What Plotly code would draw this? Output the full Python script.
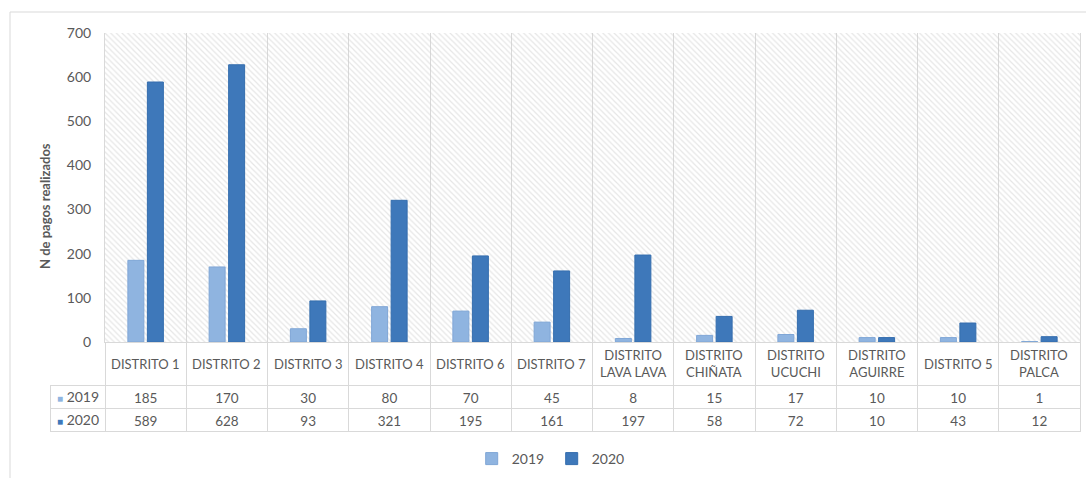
import plotly.graph_objects as go

categories = ["DISTRITO 1", "DISTRITO 2", "DISTRITO 3", "DISTRITO 4", "DISTRITO 6",
              "DISTRITO 7", "DISTRITO<br>LAVA LAVA", "DISTRITO<br>CHIÑATA",
              "DISTRITO<br>UCUCHI", "DISTRITO<br>AGUIRRE", "DISTRITO 5", "DISTRITO<br>PALCA"]
series_names = ["2019", "2020"]
values_2019 = [185, 170, 30, 80, 70, 45, 8, 15, 17, 10, 10, 1]
values_2020 = [589, 628, 93, 321, 195, 161, 197, 58, 72, 10, 43, 12]
y_ticks = [0, 100, 200, 300, 400, 500, 600, 700]

C2019 = "#8FB4E0"
C2020 = "#3E78BA"
GRID = "#d9d9d9"
TXT = "#595959"
FONT = "Lato"

W, H = 1086, 478
def px_x(p): return p / W
def px_y(p): return (H - p) / H

PLOT_L, PLOT_R, PLOT_T, PLOT_B = 105, 1080, 33, 342

fig = go.Figure()

# hatched plot background (main hidden axes)
fig.add_trace(go.Scatter(
    x=[0, 1, 1, 0, 0], y=[0, 0, 1, 1, 0], mode="none", fill="toself",
    fillcolor="rgba(0,0,0,0)",
    fillpattern=dict(shape="\\", fgcolor="#cdcdcd", bgcolor="rgba(0,0,0,0)", size=4, solidity=0.3),
    showlegend=False, hoverinfo="skip", xaxis="x", yaxis="y"))

fig.add_trace(go.Bar(name=series_names[0], x=categories, y=values_2019,
                     marker=dict(color=C2019, line=dict(color="#7FA6D6", width=1)),
                     xaxis="x2", yaxis="y2"))
fig.add_trace(go.Bar(name=series_names[1], x=categories, y=values_2020,
                     marker=dict(color=C2020, line=dict(color="#346DAE", width=1)),
                     xaxis="x2", yaxis="y2"))

# data table
cols = [["", ""]] + [[str(a), str(b)] for a, b in zip(values_2019, values_2020)]
fig.add_trace(go.Table(
    domain=dict(x=[px_x(50), px_x(1080)], y=[px_y(445), px_y(PLOT_B)]),
    columnwidth=[55] + [81.25] * 12,
    header=dict(values=[""] * 13, height=43,
                line=dict(color=["rgba(0,0,0,0)"] + [GRID] * 12, width=1),
                fill=dict(color=["rgba(0,0,0,0)"] + ["white"] * 12)),
    cells=dict(values=cols, height=23, align="center",
               line=dict(color=GRID, width=1), fill=dict(color="white"),
               font=dict(family=FONT, size=13.5, color=TXT)),
))

annotations = []
for c in categories:
    annotations.append(dict(x=c, xref="x2", y=px_y(363.5), yref="paper", text=c,
                            showarrow=False, yanchor="middle", xanchor="center", align="center",
                            font=dict(family=FONT, size=13, color=TXT)))
# row labels of the data table
for name, col, ypx in [(series_names[0], C2019, 396.5), (series_names[1], C2020, 419.5)]:
    annotations.append(dict(x=px_x(78), y=px_y(ypx), xref="paper", yref="paper",
                            text=f"<span style='color:{col};font-size:10px'>■</span> {name}",
                            showarrow=False, xanchor="center", yanchor="middle",
                            font=dict(family=FONT, size=14, color=TXT)))
annotations.append(dict(x=px_x(45), y=px_y(206), xref="paper", yref="paper",
                        text="<b>N de pagos realizados</b>", textangle=-90, showarrow=False,
                        xanchor="center", yanchor="middle",
                        font=dict(family=FONT, size=13, color="#595959")))

fig.update_layout(
    width=W, height=H,
    margin=dict(l=0, r=0, t=0, b=0, autoexpand=False),
    paper_bgcolor="white", plot_bgcolor="white",
    font=dict(family=FONT, color=TXT),
    barmode="group", bargap=0.52, bargroupgap=0.18,
    xaxis=dict(domain=[px_x(PLOT_L), px_x(PLOT_R)], range=[0, 1], visible=False, fixedrange=True),
    yaxis=dict(domain=[px_y(PLOT_B), px_y(PLOT_T)], range=[0, 1], visible=False, fixedrange=True),
    xaxis2=dict(overlaying="x", type="category", tickson="boundaries", showgrid=True, gridcolor=GRID,
                showticklabels=False, ticks="", showline=True, linecolor=GRID, automargin=False),
    yaxis2=dict(overlaying="y", range=[0, 700], tickvals=y_ticks, showgrid=False, showline=True,
                linecolor=GRID, mirror=True, ticks="", ticklabelstandoff=10, zeroline=False,
                automargin=False, tickfont=dict(family=FONT, size=14, color=TXT)),
    legend=dict(orientation="h", x=0.508, xanchor="center", y=px_y(459), yanchor="middle",
                font=dict(family=FONT, size=14, color=TXT), traceorder="normal",
                itemwidth=30, entrywidth=35),
    annotations=annotations,
    shapes=[dict(type="rect", xref="paper", yref="paper", x0=px_x(10), x1=1.02, y0=-0.02, y1=px_y(12),
                 line=dict(color=GRID, width=1), fillcolor="rgba(0,0,0,0)", layer="below")],
)

fig.write_html("out.html", config={"displayModeBar": False},
               post_script="document.body.style.margin='0';document.body.style.overflow='hidden';")
